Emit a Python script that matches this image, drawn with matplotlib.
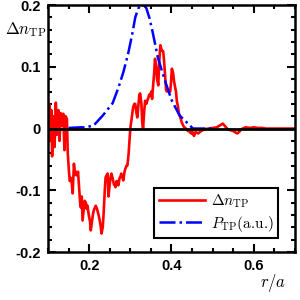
import numpy as np
import matplotlib
matplotlib.use("Agg")
import matplotlib.pyplot as plt
from matplotlib.ticker import MultipleLocator

plt.rcParams['font.family'] = ['Liberation Sans', 'DejaVu Sans']
plt.rcParams['mathtext.fontset'] = 'cm'

# red: density perturbation
r_dn = [0.100, 0.103, 0.106, 0.108, 0.110, 0.113, 0.116, 0.119, 0.122, 0.125,
        0.128, 0.131, 0.134, 0.137, 0.140, 0.143, 0.146, 0.148, 0.151, 0.153,
        0.156, 0.158, 0.160, 0.163, 0.166, 0.168, 0.170, 0.173, 0.176, 0.178,
        0.180, 0.182, 0.184, 0.187, 0.189, 0.192, 0.194, 0.196, 0.199, 0.202,
        0.204, 0.207, 0.209, 0.211, 0.214, 0.216, 0.219, 0.221, 0.223, 0.226,
        0.228, 0.230, 0.233, 0.235, 0.238, 0.240, 0.243, 0.245, 0.247, 0.250,
        0.252, 0.254, 0.257, 0.260, 0.262, 0.264, 0.267, 0.269, 0.271, 0.274,
        0.276, 0.278, 0.281, 0.283, 0.286, 0.288, 0.291, 0.293, 0.296, 0.298,
        0.300, 0.302, 0.305, 0.307, 0.310, 0.312, 0.315, 0.317, 0.320, 0.322,
        0.324, 0.327, 0.329, 0.331, 0.334, 0.336, 0.339, 0.341, 0.344, 0.346,
        0.348, 0.351, 0.353, 0.355, 0.358, 0.360, 0.363, 0.365, 0.368, 0.370,
        0.373, 0.375, 0.377, 0.380, 0.382, 0.384, 0.387, 0.389, 0.392, 0.394,
        0.397, 0.399, 0.401, 0.404, 0.406, 0.408, 0.411, 0.413, 0.416, 0.418,
        0.420, 0.423, 0.425, 0.428, 0.430, 0.433, 0.435, 0.438, 0.440, 0.443,
        0.445, 0.448, 0.450, 0.453, 0.455, 0.458, 0.460, 0.465, 0.470, 0.475,
        0.480, 0.490, 0.500, 0.510, 0.520, 0.525, 0.530, 0.535, 0.540, 0.550,
        0.560, 0.565, 0.570, 0.580, 0.590, 0.600, 0.610, 0.620, 0.630, 0.640,
        0.660, 0.680, 0.700]
dn = [0.010, 0.040, -0.020, 0.030, -0.045, 0.020, -0.030, 0.042, -0.010, 0.030,
      -0.020, 0.025, 0.005, 0.024, -0.035, 0.020, 0.015, -0.040, -0.070, -0.085,
      -0.080, -0.090, -0.105, -0.057, -0.075, -0.070, -0.076, -0.070, -0.100, -0.120,
      -0.128, -0.110, -0.149, -0.130, -0.117, -0.120, -0.130, -0.125, -0.140, -0.150,
      -0.165, -0.150, -0.140, -0.133, -0.128, -0.125, -0.130, -0.135, -0.140, -0.150,
      -0.158, -0.170, -0.160, -0.140, -0.100, -0.079, -0.075, -0.073, -0.110, -0.090,
      -0.080, -0.073, -0.080, -0.090, -0.092, -0.095, -0.085, -0.090, -0.092, -0.080,
      -0.078, -0.073, -0.080, -0.084, -0.070, -0.065, -0.060, -0.060, -0.040, -0.020,
      0.000, 0.010, 0.024, 0.035, 0.040, 0.040, 0.025, 0.018, 0.040, 0.055,
      0.057, 0.040, 0.010, 0.000, 0.030, 0.045, 0.040, 0.045, 0.050, 0.055,
      0.053, 0.060, 0.048, 0.066, 0.090, 0.113, 0.100, 0.080, 0.070, 0.105,
      0.135, 0.130, 0.126, 0.125, 0.110, 0.090, 0.062, 0.060, 0.062, 0.062,
      0.060, 0.075, 0.097, 0.090, 0.078, 0.070, 0.060, 0.045, 0.035, 0.025,
      0.021, 0.015, 0.010, 0.006, 0.003, 0.001, 0.000, -0.002, -0.004, -0.003,
      -0.006, -0.008, -0.004, -0.010, -0.012, -0.006, -0.006, -0.008, -0.005, -0.003,
      -0.001, 0.000, 0.001, 0.002, 0.006, 0.008, 0.004, 0.000, -0.002, -0.004,
      -0.008, -0.005, -0.001, 0.002, 0.001, 0.002, 0.001, 0.001, 0.000, 0.000,
      0.000, 0.000, 0.000]

# blue: power deposition profile (a.u.)
r_p = [0.150, 0.180, 0.192, 0.211, 0.233, 0.257, 0.271, 0.283, 0.295, 0.305,
       0.312, 0.319, 0.324, 0.329, 0.334, 0.339, 0.347, 0.355, 0.367, 0.384,
       0.401, 0.420, 0.445, 0.452, 0.500]
p_tp = [0.001, 0.002, 0.002, 0.005, 0.021, 0.041, 0.066, 0.091, 0.122, 0.154,
        0.180, 0.194, 0.199, 0.200, 0.199, 0.195, 0.178, 0.154, 0.115, 0.078,
        0.045, 0.021, 0.005, 0.000, 0.000]

fig = plt.figure(figsize=(3, 3), dpi=100)
ax = fig.add_axes([0.16, 0.16, 0.823, 0.823])

ax.axhline(0, color='k', lw=2, zorder=3)
ax.plot(r_dn, dn, color='r', lw=1.9, label=r'$\Delta n_{\rm TP}$', zorder=2)
ax.plot(r_p, p_tp, color='b', lw=1.8, ls='-.', label=r'$P_{\rm TP}$(a.u.)', zorder=2)

ax.set_xlim(0.1, 0.7)
ax.set_ylim(-0.2, 0.2)
ax.set_xticks([0.2, 0.4, 0.6])
ax.set_xticklabels(['0.2', '0.4', '0.6'])
ax.set_yticks([-0.2, -0.1, 0, 0.1, 0.2])
ax.set_yticklabels(['-0.2', '-0.1', '0', '0.1', '0.2'])
ax.xaxis.set_minor_locator(MultipleLocator(0.05))
ax.yaxis.set_minor_locator(MultipleLocator(0.02))
ax.tick_params(which='both', direction='in', top=True, right=True, width=1.5,
               labelsize=10.5)
ax.tick_params(which='major', length=6, pad=5)
ax.tick_params(which='minor', length=3)
for lab in ax.get_xticklabels() + ax.get_yticklabels():
    lab.set_fontweight('bold')
for s in ax.spines.values():
    s.set_linewidth(1.8)

fig.text(0.085, 0.9, r'$\Delta n_{\rm TP}$', fontsize=12, ha='center', va='center')
fig.text(0.91, 0.055, r'$r/a$', fontsize=12, ha='center', va='center')

leg = ax.legend(loc='lower right', bbox_to_anchor=(0.932, 0.055), borderaxespad=0,
                prop={'family': 'cmr10', 'size': 11},
                fancybox=False, framealpha=1, edgecolor='k', handlelength=3.0,
                borderpad=0.3, labelspacing=0.25, handletextpad=0.4)
leg.get_frame().set_linewidth(1.5)

fig.savefig('out.png', dpi=100)
